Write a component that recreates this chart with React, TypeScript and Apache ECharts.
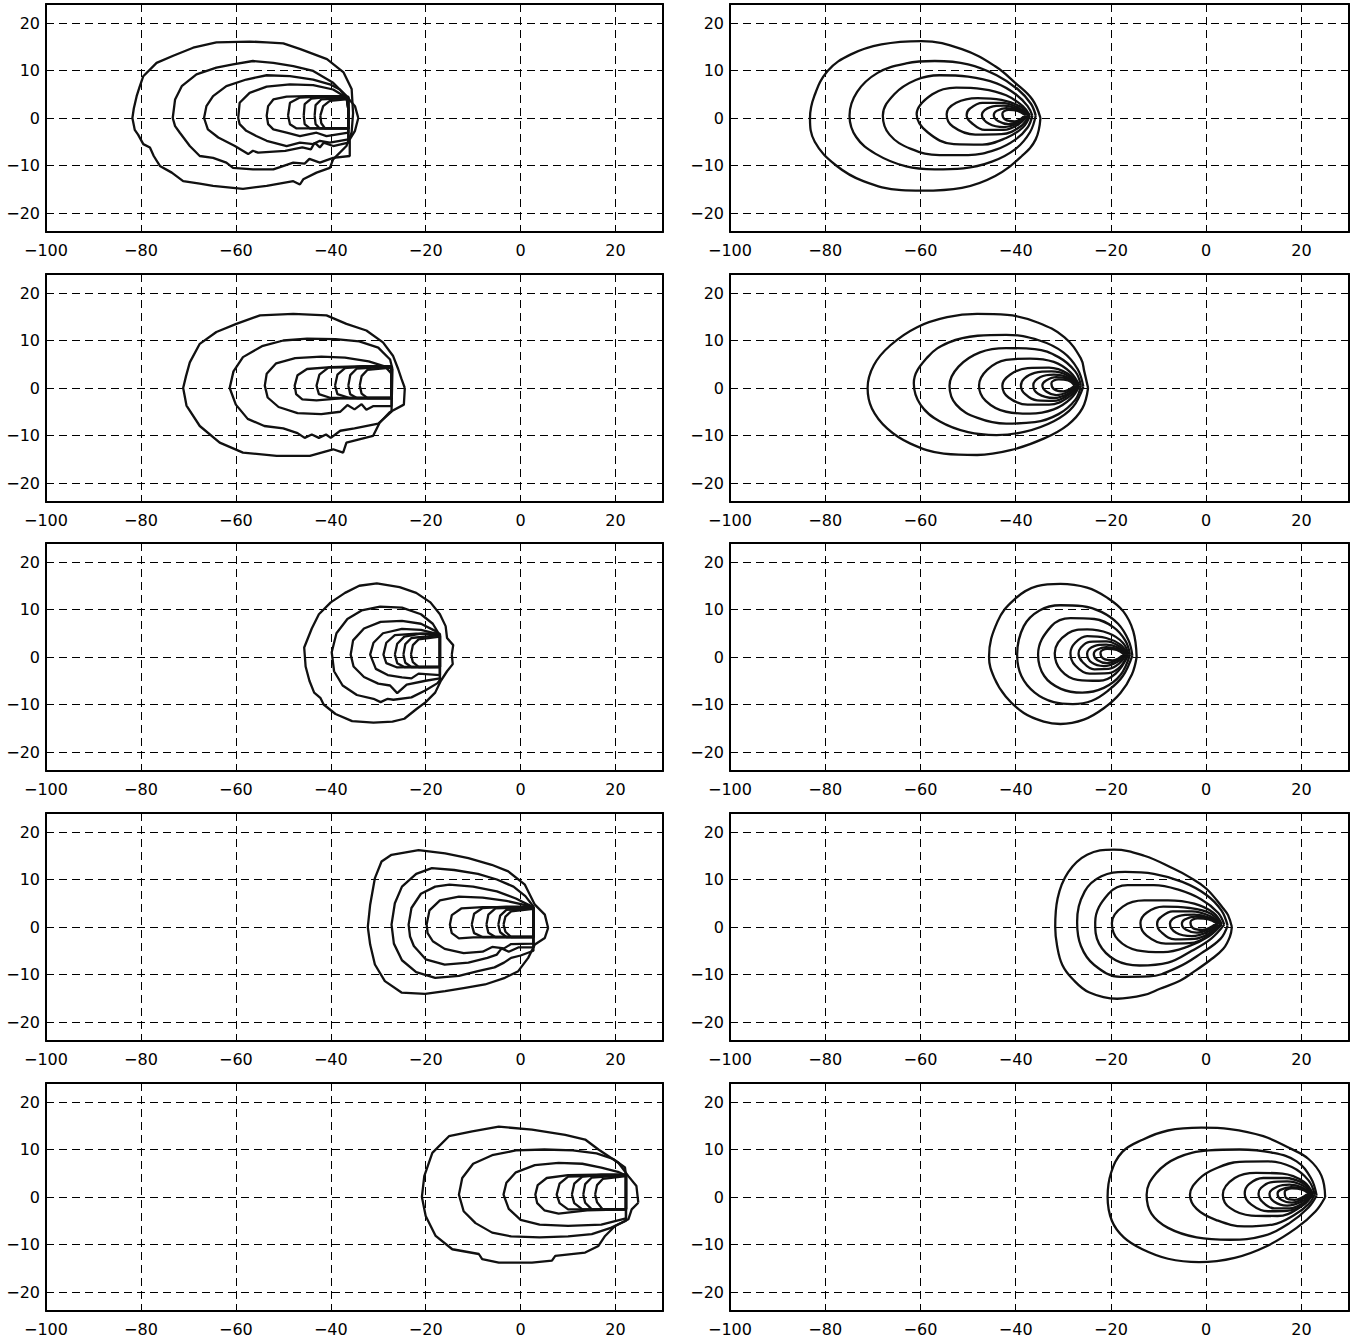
import React, { useEffect, useRef } from "react";
import * as echarts from "echarts";

type Pt = [number, number];

const xTicks = [-100, -80, -60, -40, -20, 0, 20];
const yTicks = [-20, -10, 0, 10, 20];
const X_MIN = -100;
const X_MAX = 30;
const Y_MIN = -24;
const Y_MAX = 24;

// ---------- Row 1 ----------
const panel1Left: Pt[][] = [
  [[-35.3,1],[-35.6,6.1],[-37.3,9.6],[-40.8,12.4],[-46.4,14.5],[-50,15.7],[-53.5,15.9],[-57.1,16.1],[-64.1,15.9],[-69,14.8],[-73.2,13.1],[-76.7,11.6],[-79.5,8.8],[-80.3,6.5],[-80.9,4.6],[-81.5,2],[-81.8,0],[-81.3,-2.5],[-80.6,-3.5],[-79.5,-5.5],[-78.1,-6.2],[-77.3,-8],[-76,-10.1],[-73.5,-11.5],[-71.1,-13.3],[-67.6,-13.8],[-64.8,-14.3],[-58.5,-14.9],[-53.5,-14.3],[-47.9,-13.3],[-46.5,-14],[-45.8,-12.9],[-43,-11.5],[-40.2,-10.5],[-39.5,-8.7],[-36.7,-5.9],[-35.6,-3],[-35.3,1]],
  [[-34.2,0],[-34.9,2.5],[-36.7,4.6],[-39.5,7.4],[-43.7,9.9],[-47.9,10.9],[-52.1,11.6],[-56.4,12],[-60.6,11.3],[-64.1,10.6],[-68.3,9.2],[-71.4,6.7],[-72.8,3.9],[-73.3,0],[-72.8,-1.7],[-71.8,-3.1],[-69.7,-5.9],[-67.6,-8],[-64.8,-8.4],[-62,-9.4],[-60.6,-10.5],[-56.4,-10.8],[-52.1,-10.8],[-47.9,-9.4],[-45.5,-9.6],[-44.5,-8.6],[-42.3,-9.4],[-39.5,-8.4],[-36,-8],[-36,-4.5],[-34.9,-2.7],[-34.2,0]],
  [[-36.3,1.8],[-36.7,4.6],[-38.1,6],[-40.2,7.1],[-43.7,8.1],[-48.6,8.8],[-53.5,9],[-57.8,8.1],[-62,6.7],[-64.8,4.6],[-66.2,2.5],[-66.7,0],[-65.9,-2.4],[-63.7,-4.1],[-60.2,-5.9],[-57.4,-7.6],[-56.4,-6.9],[-55.3,-7.3],[-49.6,-6.9],[-46,-6.2],[-44.2,-6.6],[-43.4,-5.2],[-42.3,-6.2],[-41.5,-5.2],[-39.5,-5.9],[-36.3,-5.2],[-36.3,1.8]],
  [[-36.3,1.8],[-36.7,4.3],[-39.5,6],[-43.7,6.9],[-48.6,7.1],[-53.5,6.6],[-57.1,5.3],[-59.2,3.2],[-59.5,0],[-59.2,-1.3],[-57.8,-2.7],[-55.7,-3.8],[-53.5,-4.8],[-49.3,-5.9],[-46.5,-5.2],[-43.7,-5.5],[-42.3,-4.8],[-40.2,-5.2],[-36.3,-4.5],[-36.3,1.8]],
  [[-36.3,1.8],[-36.7,4.6],[-40.9,4.6],[-45.1,4.6],[-49.3,4.5],[-52.1,3.9],[-53.2,2.5],[-53.5,0.5],[-53.2,-1.3],[-52.1,-2.4],[-49.3,-3.1],[-46.5,-3.8],[-43,-3.1],[-40.9,-3.8],[-36.3,-3.1],[-36.3,1.8]],
  [[-49,0.5],[-48.6,3.2],[-46.5,4.3],[-42.3,4.5],[-36.3,4.5],[-36.3,-2.2],[-42.3,-2.2],[-47.2,-2.2],[-48.6,-1.3],[-49,0.5]],
  [[-45.7,0.5],[-45.5,2.9],[-44.1,4.1],[-40.9,4.4],[-36.3,4.4],[-36.3,-2.2],[-44.4,-2.2],[-45.5,-1.3],[-45.7,0.5]],
  [[-43.4,0.5],[-43.2,2.7],[-42,3.9],[-36.3,4.2],[-36.3,-2.2],[-42.3,-2.2],[-43.2,-1.3],[-43.4,0.5]],
  [[-42.2,0.5],[-41.6,2.5],[-40.2,3.6],[-36.3,4],[-36.3,-2.2],[-41.2,-2.2],[-42,-1.1],[-42.2,0.5]],
];

const panel1Right: Pt[][] = [
  [[-34.8,0],[-36.5,3.9],[-40.1,7.4],[-44.3,10.9],[-51.3,14.5],[-59.8,16.2],[-68.2,15.5],[-74.6,13.4],[-79.5,9.9],[-82.3,4.6],[-83.2,0],[-82.2,-5],[-77.7,-10],[-72,-13.3],[-64,-15.2],[-59.8,-15.3],[-51.3,-14.7],[-44.3,-12.2],[-38.7,-8],[-35.8,-4.5],[-34.8,0]],
  [[-35.8,0.5],[-36.8,3],[-39.5,6],[-44,9],[-50,11.3],[-57,12],[-63,11.5],[-69,9.5],[-73.3,5.5],[-74.9,0.5],[-73.5,-4],[-69.5,-7.5],[-63,-10.2],[-57,-10.8],[-51,-10.6],[-45,-9.2],[-40,-6.5],[-37,-3],[-35.8,0.5]],
  [[-36.5,0.5],[-37.5,2.5],[-40,5],[-44,7.3],[-50,8.7],[-56,9],[-61,8],[-65.5,5],[-67.9,0.5],[-66.5,-3.5],[-62,-6.5],[-56,-7.8],[-50,-7.8],[-44,-6.6],[-40,-4.5],[-37.5,-2],[-36.5,0.5]],
  [[-37,0.5],[-38.5,2.5],[-42,4.8],[-47,6.1],[-52.5,6.4],[-57.5,5],[-60.8,0.8],[-58.5,-3],[-53,-5.5],[-47,-5.6],[-42,-4.2],[-38.5,-2],[-37,0.5]],
  [[-37.2,0.6],[-39,2.4],[-43,3.8],[-48,4.2],[-52.5,3.2],[-54.5,0.8],[-53.2,-1.8],[-48.5,-3.5],[-43,-3.4],[-39,-1.8],[-37.2,0.6]],
  [[-37.4,0.6],[-39.5,2.2],[-43,3.2],[-47,3.2],[-49.6,2],[-50.3,0.6],[-49.3,-1],[-46.5,-2.5],[-42.5,-2.5],[-39.5,-1.4],[-37.4,0.6]],
  [[-37.6,0.6],[-39.6,1.9],[-42.5,2.6],[-45.3,2.3],[-47.1,0.7],[-45.6,-1.2],[-42.5,-1.9],[-39.6,-1.1],[-37.6,0.6]],
  [[-37.8,0.6],[-39.6,1.7],[-42,2.1],[-44,1.5],[-44.6,0.6],[-43.6,-0.7],[-41.5,-1.3],[-39.5,-0.7],[-37.8,0.6]],
  [[-38,0.6],[-39.6,1.5],[-41.5,1.7],[-42.8,0.9],[-42.2,-0.3],[-40.2,-0.7],[-38,0.6]],
];

// ---------- Row 2 ----------
const panel2Left: Pt[][] = [
  [[-24.4,0],[-25.1,1.9],[-25.8,4],[-26.9,6.8],[-29,9.6],[-32.5,12.1],[-36.7,13.5],[-40.9,15.3],[-47.9,15.6],[-54.9,15.3],[-59.9,13.5],[-64.1,11.8],[-67.6,9.3],[-69.7,5.4],[-70.5,2.5],[-71.1,0],[-70.4,-3.7],[-67.6,-8],[-63.4,-11.5],[-58.5,-13.6],[-51.4,-14.3],[-44.4,-14.3],[-39.5,-12.9],[-37.4,-13.6],[-36.7,-11.5],[-31.1,-10.1],[-29.7,-7.3],[-27.6,-5.1],[-24.6,-3.5],[-24.4,0]],
  [[-27,4],[-27.5,6],[-30,8.5],[-34,9.8],[-39,10.3],[-45,10.4],[-50,10],[-54.5,8.8],[-58.5,6.5],[-60.5,3.5],[-61.3,0],[-60,-3.5],[-57.5,-6.5],[-54,-8],[-50,-8.5],[-47,-9.5],[-45.5,-10.5],[-44,-9.8],[-42.5,-10.5],[-41,-9.8],[-40,-10.5],[-38,-9],[-35,-8.5],[-30,-7.5],[-27.2,-5],[-27,4]],
  [[-27.2,3],[-28.5,4.5],[-32,5.6],[-37,6.4],[-42,6.6],[-47.5,6.3],[-51.5,5.2],[-53.5,3],[-53.9,0.5],[-53.3,-2],[-51,-4],[-47,-5.3],[-42,-5.5],[-38,-5],[-36.5,-3.6],[-35,-4.5],[-33.5,-3.4],[-32.5,-4.6],[-31,-3.8],[-27.2,-3.8],[-27.2,3]],
  [[-27.2,4.5],[-33,4.6],[-40,4.4],[-45,4],[-47,2.7],[-47.6,0.5],[-47.3,-1.3],[-46,-2.4],[-43,-2.6],[-38,-2.2],[-27.2,-2.2],[-27.2,4.5]],
  [[-27.2,4.5],[-40.5,4.3],[-42.4,2.8],[-43,0.5],[-42.5,-1.3],[-40,-2.1],[-27.2,-2.1],[-27.2,4.5]],
  [[-39.1,0.5],[-38.6,2.8],[-37,4.2],[-33,4.6],[-27.2,4.6],[-27.2,-2.1],[-36,-2.1],[-38.6,-1.3],[-39.1,0.5]],
  [[-36.3,0.5],[-35.9,2.7],[-34.5,4.1],[-27.2,4.5],[-27.2,-2.1],[-34.5,-2.1],[-35.9,-1.3],[-36.3,0.5]],
  [[-33.9,0.5],[-33.5,2.5],[-32.3,3.8],[-27.2,4.3],[-27.2,-2.1],[-32.3,-2.1],[-33.5,-1.2],[-33.9,0.5]],
];

const panel2Right: Pt[][] = [
  [[-24.8,0],[-25.6,3.5],[-26.3,6.2],[-29.8,10.7],[-35.4,13.8],[-41.8,15.4],[-48.1,15.6],[-54.4,14.9],[-60.7,12.8],[-66.3,9],[-69.8,4.8],[-71.1,0],[-70.2,-4.3],[-67,-8.5],[-62.1,-11.7],[-55.1,-13.8],[-48.1,-14.1],[-41.1,-13.1],[-34,-10.6],[-29.1,-7.8],[-26,-4.3],[-24.8,0]],
  [[-25.8,0.3],[-27,4],[-30,7.5],[-35,10],[-42,11.2],[-48,11],[-54,9.6],[-58.5,6.5],[-61.4,1],[-60,-3.5],[-56,-7],[-50,-9.3],[-44,-9.9],[-38,-9.2],[-32,-7],[-28,-4],[-25.8,0.3]],
  [[-26.3,0.5],[-27.5,3.5],[-31,6.5],[-36,8.2],[-42,8.4],[-47.5,7.5],[-52,4.5],[-53.9,0.5],[-52.5,-3.5],[-48,-6.3],[-42,-7.5],[-36,-7.2],[-31,-5.5],[-27.5,-2.5],[-26.3,0.5]],
  [[-26.6,0.5],[-28.5,3.3],[-32,5.5],[-37,6.2],[-42,5.9],[-46,3.8],[-47.7,0.5],[-46.3,-2.7],[-42,-5],[-37,-5.4],[-32,-4.5],[-28.5,-2.3],[-26.6,0.5]],
  [[-26.8,0.5],[-29,3],[-33,4.3],[-37.5,4.2],[-41.2,2.8],[-42.8,0.5],[-41.5,-2],[-37.5,-3.5],[-33,-3.5],[-29,-2],[-26.8,0.5]],
  [[-27,0.5],[-29,2.6],[-32.5,3.5],[-36,3.2],[-38.2,2],[-38.9,0.5],[-38,-1.3],[-35.5,-2.6],[-32,-2.7],[-29,-1.5],[-27,0.5]],
  [[-27.2,0.5],[-29,2.2],[-32,2.8],[-34.8,2.3],[-36.3,0.6],[-35.3,-1.2],[-32,-2.1],[-29,-1.2],[-27.2,0.5]],
  [[-27.4,0.5],[-29,1.9],[-31.5,2.3],[-33.6,1.6],[-34.4,0.6],[-33.5,-0.8],[-31.5,-1.5],[-29,-0.8],[-27.4,0.5]],
  [[-27.6,0.5],[-29,1.6],[-31,1.8],[-32.5,1],[-32,-0.2],[-30,-0.7],[-27.6,0.5]],
];

// ---------- Row 3 ----------
const panel3Left: Pt[][] = [
  [[-14.5,0.5],[-14.2,2.5],[-15.5,4],[-15.8,6.5],[-17,9],[-19,11.5],[-22,13.5],[-25.5,14.7],[-30.3,15.5],[-34,15],[-37,13.5],[-40,11.5],[-42.5,9],[-44,6],[-45.6,2],[-45.3,-2],[-44.5,-5],[-43.5,-7.5],[-42.2,-8.6],[-41.5,-10],[-39,-12],[-35.5,-13.5],[-31,-13.8],[-27,-13.6],[-24.5,-13],[-22,-11],[-20,-9.5],[-18,-7.5],[-16.8,-5],[-15.5,-3],[-14.3,-1.5],[-14.5,0.5]],
  [[-17,4.5],[-18.5,7],[-21,9],[-25,10.4],[-29.6,10.6],[-33.5,9.8],[-36.5,8],[-38.8,5],[-39.8,1],[-39.3,-3],[-37.5,-6],[-34.5,-8],[-31,-8.8],[-29.5,-9.5],[-28,-8.8],[-26.8,-9],[-23,-8.5],[-20,-7],[-17.5,-5.5],[-17,-4.8],[-17,4.5]],
  [[-17,4.5],[-18,5.5],[-21,7],[-25,7.6],[-29.5,7.4],[-33,6],[-35.3,3.5],[-35.8,0.5],[-35.2,-2],[-33,-4.2],[-30,-5.6],[-27.5,-6],[-26,-7.6],[-24,-5.8],[-20,-5],[-17,-4.5],[-17,4.5]],
  [[-17,4.7],[-21,5.7],[-25,5.9],[-29,5],[-31,3],[-31.7,0.5],[-30.5,-2.5],[-28,-3.8],[-25,-4.3],[-23,-4.5],[-21.5,-3.5],[-17,-3.8],[-17,4.7]],
  [[-17,4.8],[-22,4.9],[-26.5,4.6],[-28.3,3],[-28.9,0.5],[-28.3,-1.3],[-26,-2.2],[-17,-2.1],[-17,4.8]],
  [[-26.5,0.5],[-26,2.8],[-24.5,4.3],[-21,4.9],[-17,4.9],[-17,-2.1],[-24.5,-2.1],[-26,-1.3],[-26.5,0.5]],
  [[-24.7,0.5],[-24.3,2.7],[-23,4],[-17,4.6],[-17,-2.1],[-23,-2.1],[-24.3,-1.2],[-24.7,0.5]],
  [[-23.1,0.5],[-22.7,2.5],[-21.5,3.7],[-17,4.3],[-17,-2.1],[-21.5,-2.1],[-22.7,-1.1],[-23.1,0.5]],
];

const panel3Right: Pt[][] = [
  [[-14.6,0],[-15.3,5.4],[-17.4,9.6],[-20.8,12.5],[-25,14.6],[-30.6,15.4],[-35.5,14.9],[-40.3,12.1],[-43.8,7.5],[-45.6,0],[-44.5,-4.4],[-42.1,-8.3],[-38.3,-11.8],[-34.1,-13.6],[-30.6,-14.1],[-25.7,-13.2],[-21.5,-10.8],[-18,-7.6],[-15.6,-3.7],[-14.6,0]],
  [[-15.5,0.3],[-16.3,3.5],[-18.5,7],[-22,9.5],[-26,10.7],[-30.6,10.9],[-35,9.8],[-38.3,6.5],[-39.7,0.5],[-38.8,-4],[-36,-7.5],[-32,-9.5],[-28,-9.9],[-24,-9.2],[-20.5,-7],[-17.5,-4],[-15.5,0.3]],
  [[-16,0.5],[-17,3.5],[-19.5,6.3],[-23.5,8],[-28.5,8.2],[-32.5,6.5],[-35.3,0.5],[-34,-4],[-30.5,-6.7],[-26,-7.5],[-21.5,-6.5],[-18,-3.8],[-16,0.5]],
  [[-16.3,0.5],[-17.5,3],[-20.5,5],[-25,5.8],[-29,5],[-31.8,0.8],[-30.5,-2.8],[-27,-4.8],[-22.5,-5],[-19,-3.5],[-16.3,0.5]],
  [[-16.5,0.6],[-18,2.6],[-21,4],[-25,4.4],[-27.5,3],[-28.5,0.8],[-27.5,-1.8],[-24.5,-3.5],[-20.5,-3.4],[-18,-2],[-16.5,0.6]],
  [[-16.7,0.6],[-18.3,2.3],[-21,3.3],[-24.5,3.2],[-26.3,2],[-26.8,0.7],[-26,-1],[-23.5,-2.6],[-20.5,-2.5],[-18.3,-1.4],[-16.7,0.6]],
  [[-16.9,0.6],[-18.5,2],[-21,2.6],[-23.5,2.3],[-25,0.7],[-24,-1.2],[-21.5,-1.9],[-18.8,-1.1],[-16.9,0.6]],
  [[-17.1,0.6],[-18.7,1.7],[-21,2.1],[-23,1.5],[-23.6,0.6],[-22.8,-0.7],[-20.8,-1.3],[-18.8,-0.7],[-17.1,0.6]],
  [[-17.3,0.6],[-18.8,1.5],[-20.8,1.7],[-22.2,0.9],[-21.6,-0.3],[-19.6,-0.7],[-17.3,0.6]],
];

// ---------- Row 4 ----------
const panel4Left: Pt[][] = [
  [[5.8,-0.2],[5.1,2.6],[3,4.7],[0.9,8.9],[-2.6,11.7],[-6.1,13.1],[-11,14.5],[-15.9,15.5],[-21.5,16.2],[-27.2,15.2],[-29.3,13.8],[-30.7,10.3],[-31.7,4.7],[-32.2,0],[-31.7,-3.7],[-30.7,-7.9],[-28.6,-11.4],[-25.1,-13.8],[-20.1,-14.1],[-15.9,-13.5],[-11.7,-12.8],[-7.5,-12.1],[-3.3,-10.7],[-0.5,-9.3],[1.6,-6.5],[3,-3.7],[5.1,-2.3],[5.8,-0.2]],
  [[2.7,4.3],[1,6.5],[-1.5,8.5],[-5,10],[-9,11.2],[-14,12],[-18.7,12.4],[-22,11.2],[-25,8.5],[-26.5,5],[-27.2,0.5],[-26.7,-3.5],[-25,-7],[-22,-9.5],[-18,-10.7],[-13,-10.3],[-9,-9.3],[-5.5,-8.5],[-3.5,-7.5],[-2,-6.5],[0,-6],[2.7,-5],[2.7,4.3]],
  [[2.7,3.5],[2,4.5],[-1,6],[-5,7.5],[-10,8.5],[-15,8.9],[-18,8.5],[-21,7],[-23,4],[-23.6,0.5],[-23.3,-2],[-22.5,-4],[-20,-6.8],[-16,-7.9],[-11,-7.5],[-7,-6.5],[-5,-5.8],[-4,-4.5],[-2.5,-5.2],[-0.5,-4.3],[2.7,-4.3],[2.7,3.5]],
  [[2.7,4.2],[1,4.6],[-3,5.5],[-8,6.2],[-13,6.4],[-17,5.6],[-19.2,3.5],[-19.8,0.5],[-19.6,-1.3],[-18.5,-3],[-16,-4.6],[-12,-5.5],[-8,-5.2],[-6,-4.2],[-3.5,-4.5],[-2,-3.6],[2.7,-3.5],[2.7,4.2]],
  [[2.7,4.2],[-8,4.2],[-12.5,3.9],[-14.5,2.5],[-14.9,0.5],[-14.5,-1.3],[-13,-2.4],[-10,-2.2],[2.7,-2.1],[2.7,4.2]],
  [[-10.3,0.5],[-9.8,2.8],[-8,4],[-3,4.3],[2.7,4.3],[2.7,-2.1],[-8,-2.1],[-9.8,-1.3],[-10.3,0.5]],
  [[-7.2,0.5],[-6.8,2.6],[-5.3,3.9],[2.7,4.2],[2.7,-2.1],[-5.3,-2.1],[-6.8,-1.2],[-7.2,0.5]],
  [[-4.7,0.5],[-4.3,2.4],[-3,3.6],[2.7,4],[2.7,-2.1],[-3,-2.1],[-4.3,-1.1],[-4.7,0.5]],
  [[-3.6,0.5],[-3.2,2.2],[-2,3.3],[2.7,3.8],[2.7,-2.1],[-2,-2.1],[-3.2,-1],[-3.6,0.5]],
];

const panel4Right: Pt[][] = [
  [[5.4,0],[4.6,2.5],[3.6,3.9],[0,8.1],[-3.5,10.5],[-6.9,12.3],[-13,15],[-19.4,16.3],[-25,15.2],[-29,11.5],[-31.2,6],[-31.7,0],[-31.3,-4],[-30.2,-8],[-28,-11],[-24.5,-13.8],[-18.7,-15.1],[-13,-14.3],[-9.7,-13],[-5.5,-11.3],[-2.7,-9.5],[0.8,-7],[3.6,-4.6],[5,-2],[5.4,0]],
  [[4.5,0.3],[3.2,3.5],[0,6.8],[-5,9.5],[-11,11.2],[-17,11.6],[-22,10.7],[-25.5,7.5],[-27.1,1],[-26.3,-4],[-23.5,-8],[-18,-10.5],[-12,-10.4],[-6,-8.5],[-1,-5.5],[3,-2.5],[4.5,0.3]],
  [[3.8,0.5],[2.5,3],[-1,5.8],[-6,7.9],[-11,8.8],[-16.5,8.8],[-20.5,7],[-23.3,1],[-22.5,-3.5],[-19,-7],[-14,-8.1],[-8,-7.5],[-3,-5],[1,-2.5],[3.8,0.5]],
  [[3.3,0.6],[1.5,3],[-2.5,4.9],[-8,5.6],[-13,5.6],[-17.5,4.3],[-19.8,0.8],[-18.5,-2.7],[-14.5,-4.9],[-9,-5.3],[-4,-4.2],[0.5,-2],[3.3,0.6]],
  [[3,0.6],[1,2.8],[-3.5,4],[-9,4.3],[-12.5,3],[-13.8,0.8],[-12.5,-1.8],[-8.5,-3.5],[-3.5,-3.4],[0.5,-1.8],[3,0.6]],
  [[2.8,0.6],[0.8,2.3],[-3,3.3],[-7,3.3],[-9.6,2],[-10.3,0.7],[-9.5,-1],[-6.5,-2.6],[-2.5,-2.5],[0.5,-1.4],[2.8,0.6]],
  [[2.6,0.6],[0.6,2],[-2.5,2.6],[-5.8,2.3],[-7.6,0.7],[-6.3,-1.2],[-3,-1.9],[0.2,-1.1],[2.6,0.6]],
  [[2.4,0.7],[0.5,1.8],[-2.3,2.2],[-4.5,1.6],[-5.1,0.7],[-4.2,-0.6],[-2,-1.2],[0.3,-0.6],[2.4,0.7]],
  [[2.2,0.8],[0.5,1.6],[-1.8,1.8],[-3.3,1],[-2.8,-0.2],[-0.8,-0.6],[2.2,0.8]],
];

// ---------- Row 5 ----------
const panel5Left: Pt[][] = [
  [[24.8,-1.2],[24.4,2.3],[22.7,4.4],[20.6,7.2],[16.4,10],[13.6,12.1],[9.4,13.1],[2.4,14.2],[-4.6,14.8],[-10.2,13.8],[-15.1,12.8],[-18.6,9.3],[-20.3,4.4],[-20.8,0],[-20,-4],[-17.9,-8.2],[-14.4,-11],[-8.8,-12],[-8.1,-13.1],[-4.6,-13.8],[2.4,-13.8],[6.6,-13.4],[7.3,-12.4],[13.6,-11.7],[16.4,-10.3],[17.8,-8.2],[19.9,-6.1],[22.7,-4.7],[23.4,-2.6],[24.8,-1.2]],
  [[22.2,4.5],[22,6.2],[19.5,8],[16,9.2],[11,9.8],[5,10],[-1,9.8],[-6,8.8],[-10,7],[-12.3,4],[-13,0.5],[-12,-3],[-9.5,-5.5],[-6,-7.5],[-2,-8.3],[4,-8.5],[10,-8.3],[15,-7.8],[19,-6.5],[22.2,-5],[22.2,4.5]],
  [[22.2,4.5],[20.5,5.3],[17,6.2],[13,7],[8,7.2],[3,6.7],[-1,5.2],[-3,3],[-3.6,0.5],[-2.5,-2.5],[0,-4.8],[4,-5.8],[10,-6.1],[17,-5.8],[22.2,-4.5],[22.2,4.5]],
  [[22.2,4.7],[16,4.7],[10,4.6],[5.5,4],[3.6,2.5],[3.1,0.5],[3.5,-1.3],[5,-2.8],[8,-3.5],[14,-2.8],[22.2,-2.6],[22.2,4.7]],
  [[22.2,4.6],[10,4.3],[8.2,2.8],[7.6,0.5],[8.2,-1.3],[10,-2.6],[22.2,-2.6],[22.2,4.6]],
  [[10.8,0.5],[11.3,2.8],[13,4.3],[17,4.7],[22.2,4.7],[22.2,-2.6],[13,-2.6],[11.3,-1.3],[10.8,0.5]],
  [[13.2,0.5],[13.6,2.7],[15,4.1],[22.2,4.6],[22.2,-2.6],[15,-2.6],[13.6,-1.2],[13.2,0.5]],
  [[15.7,0.5],[16.1,2.5],[17.3,3.8],[22.2,4.4],[22.2,-2.6],[17.3,-2.6],[16.1,-1.1],[15.7,0.5]],
];

const panel5Right: Pt[][] = [
  [[25,0],[24.2,4.5],[21.5,8],[17.5,10.3],[12,12.8],[5,14.3],[-1,14.6],[-8,14],[-13.5,12],[-17.6,9.5],[-20,5],[-20.7,0],[-19.8,-5],[-17.3,-8.5],[-13.4,-11],[-8,-13],[-1.5,-13.7],[6,-12.8],[12.8,-10.3],[19,-6.5],[23,-3],[25,0]],
  [[23.2,0.3],[22,4],[19,7.5],[14,9.3],[7,10],[0.5,9.8],[-6,8.3],[-10.5,5],[-12.5,0.5],[-11.5,-3.5],[-8,-6.5],[-2,-8.5],[5,-9],[12,-8.2],[17.5,-5.5],[21.5,-2.2],[23.2,0.3]],
  [[22.8,0.5],[21.5,3.5],[18,6.3],[13,7.5],[7,7.4],[2,6],[-1.5,3.8],[-3.4,0.5],[-2,-2.5],[2,-4.8],[8,-6.2],[14,-5.8],[18.5,-3.8],[21.5,-1.5],[22.8,0.5]],
  [[22.5,0.5],[20.5,3.2],[16,4.9],[10.5,5.1],[6,4],[3.5,0.5],[5,-2.3],[9.5,-3.9],[15,-4],[19.5,-2.3],[22.5,0.5]],
  [[22.3,0.6],[20.5,2.8],[16.5,4],[12,4],[9,2.7],[8.1,0.7],[9.5,-1.6],[13,-3],[17,-2.9],[20.5,-1.6],[22.3,0.6]],
  [[22.1,0.6],[20.3,2.4],[17,3.3],[13.5,3.1],[11.5,1.9],[11,0.7],[11.8,-1],[14.3,-2.4],[17.5,-2.4],[20.3,-1.3],[22.1,0.6]],
  [[21.9,0.6],[20.2,2],[17.5,2.6],[15,2.2],[13.3,0.7],[14.3,-1],[17,-1.8],[20,-1],[21.9,0.6]],
  [[21.7,0.7],[20,1.8],[17.8,2.1],[15.6,1.5],[15,0.7],[15.8,-0.6],[18,-1.2],[20,-0.6],[21.7,0.7]],
  [[21.5,0.8],[20,1.6],[18,1.8],[16.5,1.1],[16.8,-0.2],[18.6,-0.6],[21.5,0.8]],
];

const panelContours: Pt[][][] = [
  panel1Left, panel1Right,
  panel2Left, panel2Right,
  panel3Left, panel3Right,
  panel4Left, panel4Right,
  panel5Left, panel5Right,
];

const ROW_TOPS = [4, 274, 543, 813, 1083];
const COL_LEFTS = [46, 730];
const COL_WIDTHS = [617, 619];
const PANEL_H = 228;

const FONT = "'DejaVu Sans', 'Liberation Sans', Arial, sans-serif";
const fmt = (v: number) => String(v).replace("-", "\u2212");

function buildOption() {
  const grid: any[] = [];
  const xAxis: any[] = [];
  const yAxis: any[] = [];
  const series: any[] = [];
  panelContours.forEach((contours, i) => {
    const row = Math.floor(i / 2);
    const col = i % 2;
    grid.push({
      left: COL_LEFTS[col],
      top: ROW_TOPS[row],
      width: COL_WIDTHS[col],
      height: PANEL_H,
      containLabel: false,
    });
    const axisLine = { show: true, onZero: false, lineStyle: { color: "#000", width: 2 } };
    const tickStyle = { color: "#000", width: 1 };
    xAxis.push({
      gridIndex: i,
      type: "value",
      min: X_MIN,
      max: X_MAX,
      position: "bottom",
      axisLine,
      axisTick: { show: true, inside: true, length: 6, customValues: xTicks, lineStyle: tickStyle },
      axisLabel: { show: true, customValues: xTicks, formatter: fmt, fontSize: 16, color: "#000", fontFamily: FONT, margin: 10 },
      splitLine: { show: true, lineStyle: { type: [8, 5], color: "#000", width: 1 } },
    });
    xAxis.push({
      gridIndex: i,
      type: "value",
      min: X_MIN,
      max: X_MAX,
      position: "top",
      axisLine,
      axisTick: { show: true, inside: true, length: 6, customValues: xTicks, lineStyle: tickStyle },
      axisLabel: { show: false },
      splitLine: { show: false },
    });
    yAxis.push({
      gridIndex: i,
      type: "value",
      min: Y_MIN,
      max: Y_MAX,
      position: "left",
      axisLine,
      axisTick: { show: true, inside: true, length: 6, customValues: yTicks, lineStyle: tickStyle },
      axisLabel: { show: true, customValues: yTicks, formatter: fmt, fontSize: 16, color: "#000", fontFamily: FONT, margin: 6 },
      splitLine: { show: true, lineStyle: { type: [8, 5], color: "#000", width: 1 } },
    });
    yAxis.push({
      gridIndex: i,
      type: "value",
      min: Y_MIN,
      max: Y_MAX,
      position: "right",
      axisLine,
      axisTick: { show: true, inside: true, length: 6, customValues: yTicks, lineStyle: tickStyle },
      axisLabel: { show: false },
      splitLine: { show: false },
    });
    contours.forEach((c) => {
      series.push({
        type: "line",
        xAxisIndex: 2 * i,
        yAxisIndex: 2 * i,
        data: c,
        showSymbol: false,
        symbol: "none",
        smooth: col === 1 ? 0.4 : false,
        silent: true,
        lineStyle: { color: "#111", width: 2.3 },
      });
    });
  });
  return {
    animation: false,
    backgroundColor: "#fff",
    grid,
    xAxis,
    yAxis,
    series,
  };
}

export default function App() {
  const ref = useRef<HTMLDivElement>(null);
  useEffect(() => {
    if (!ref.current) return;
    const chart = echarts.init(ref.current, undefined, { renderer: "svg" });
    chart.setOption(buildOption());
    return () => chart.dispose();
  }, []);
  return (
    <div
      ref={ref}
      style={{ position: "absolute", left: 0, top: 0, width: 1358, height: 1342, background: "#fff" }}
    />
  );
}
